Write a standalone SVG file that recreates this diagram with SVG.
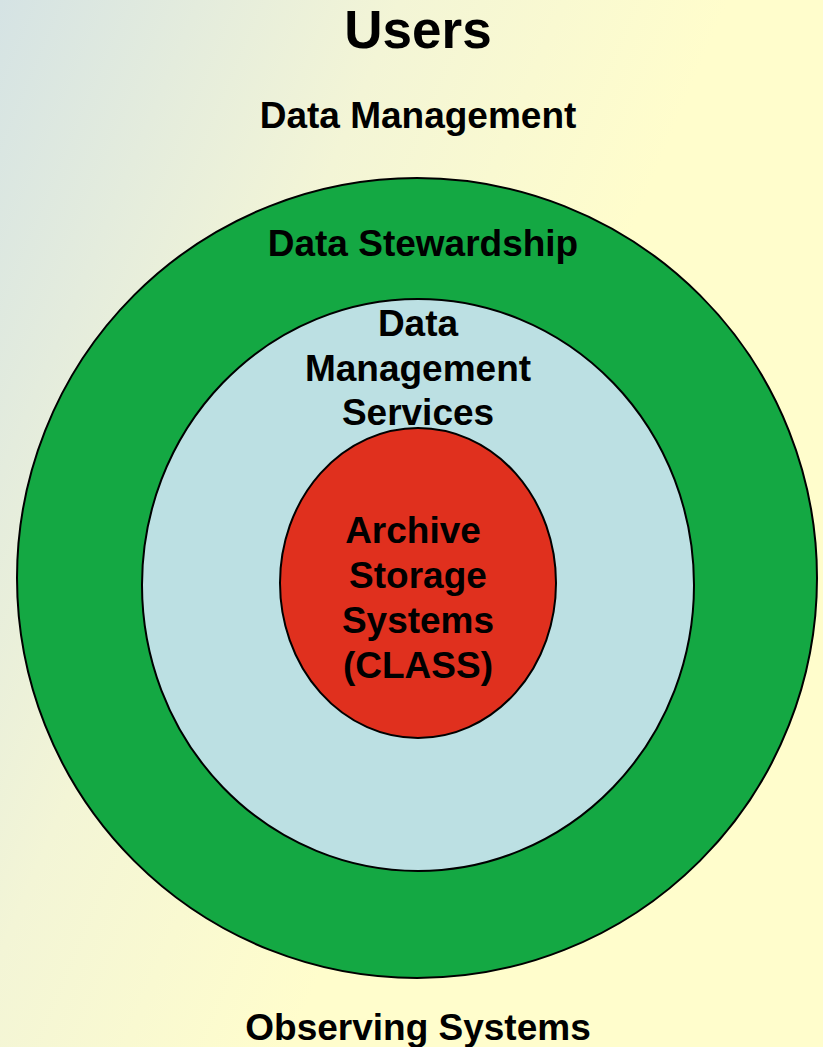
<svg xmlns="http://www.w3.org/2000/svg" width="823" height="1047" viewBox="0 0 823 1047">
<defs>
<linearGradient id="bg" gradientUnits="userSpaceOnUse" x1="0" y1="0" x2="620" y2="260">
<stop offset="0" stop-color="#d5e3e4"/>
<stop offset="0.55" stop-color="#f3f5d6"/>
<stop offset="1" stop-color="#fffdcc"/>
</linearGradient>
<style>
.t{font-family:"Liberation Sans",Arial,sans-serif;font-weight:bold;fill:#000;text-anchor:middle}
.ring{stroke:#000;stroke-width:2}
</style>
</defs>
<rect x="0" y="0" width="823" height="1047" fill="url(#bg)"/>
<g id="users"><text class="t" x="418" y="48" font-size="53">Users</text></g>
<g id="data-management"><text class="t" x="418" y="128" font-size="37">Data Management</text></g>
<g id="data-stewardship">
<circle class="ring" cx="417" cy="578" r="400" fill="#14a843"/>
<text class="t" x="423" y="256" font-size="37">Data Stewardship</text>
</g>
<g id="data-management-services">
<ellipse class="ring" cx="418" cy="585" rx="276" ry="286" fill="#bce0e3"/>
<text class="t" font-size="37"><tspan x="418" y="336">Data</tspan><tspan x="418" y="381">Management</tspan><tspan x="418" y="425">Services</tspan></text>
</g>
<g id="archive-storage">
<ellipse class="ring" cx="418" cy="583" rx="138" ry="155" fill="#e0301e"/>
<text class="t" font-size="37"><tspan x="413" y="543">Archive</tspan><tspan x="418" y="588">Storage</tspan><tspan x="418" y="633">Systems</tspan><tspan x="418" y="678">(CLASS)</tspan></text>
</g>
<g id="observing-systems"><text class="t" x="418" y="1040" font-size="37">Observing Systems</text></g>
<g id="connectors"></g>
</svg>
